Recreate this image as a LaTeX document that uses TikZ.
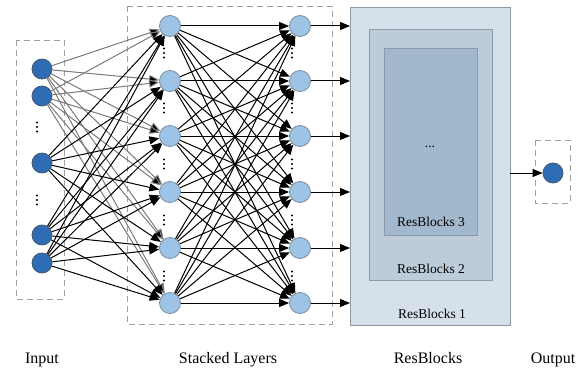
\documentclass[tikz,border=0pt]{standalone}
\usepackage{fontspec}
\setmainfont{Liberation Serif}
\usetikzlibrary{arrows.meta}
\definecolor{inblue}{HTML}{2E6DB5}
\definecolor{inedge}{HTML}{44576C}
\definecolor{hidblue}{HTML}{9DC3E6}
\definecolor{hidedge}{HTML}{7D8D9E}
\definecolor{boxgray}{HTML}{A0A0A0}
\definecolor{rbone}{HTML}{D6E0EA}
\definecolor{rbtwo}{HTML}{BDCCDA}
\definecolor{rbthree}{HTML}{A2B8CC}
\definecolor{rbedge}{HTML}{8D9AA6}
\definecolor{lightline}{HTML}{7A7A7A}
\tikzset{
  x=1pt, y=-1pt,
  innode/.style={circle, draw=inedge, fill=inblue, line width=0.8pt, minimum size=20pt, inner sep=0pt},
  hidnode/.style={circle, draw=hidedge, fill=hidblue, line width=0.8pt, minimum size=21pt, inner sep=0pt},
  groupbox/.style={draw=boxgray, line width=0.9pt, dash pattern=on 6pt off 4pt},
  conn/.style={line width=1pt, -{Triangle[length=10pt,width=8pt]}},
  graycon/.style={conn, draw=lightline, -{Triangle[length=10pt,width=8pt,fill=black]}},
  rbbox/.style={draw=rbedge, line width=0.8pt},
  caption/.style={font=\fontsize{16}{19}\selectfont, anchor=base},
  rblabel/.style={font=\fontsize{13.5}{16}\selectfont, anchor=base}
}
\newcommand{\dotcol}[2]{%
  \fill (#1,#2-4.5) circle (1.1pt);
  \fill (#1,#2) circle (1.1pt);
  \fill (#1,#2+4.5) circle (1.1pt);}
\begin{document}
\begin{tikzpicture}
\useasboundingbox (0,0) rectangle (587,369);

% group frames
\draw[groupbox] (16,40) rectangle (64,299);
\draw[groupbox] (127,6) rectangle (332,324);
\draw[groupbox] (535,140) rectangle (570,203);

% residual block stack
\draw[rbbox, fill=rbone] (350,7) rectangle (510,325);
\draw[rbbox, fill=rbtwo] (369,29) rectangle (492,280);
\draw[rbbox, fill=rbthree] (384,48) rectangle (477,235);
\node[rblabel] (rbdots) at (430,147) {...};
\node[rblabel] (rb3) at (431,226) {ResBlocks 3};
\node[rblabel] (rb2) at (431,273) {ResBlocks 2};
\node[rblabel] (rb1) at (432,318) {ResBlocks 1};
\coordinate (rbout) at (510,173);

% input layer
\foreach \i/\y in {1/69,2/96,3/163,4/235,5/263}
  \node[innode] (in\i) at (42,\y) {};
\dotcol{37}{127}
\dotcol{37}{200}

% hidden layers
\foreach \j/\y in {1/26,2/81,3/136,4/192,5/248,6/303} {
  \node[hidnode] (ha\j) at (170,\y) {};
  \node[hidnode] (hb\j) at (300,\y) {};
  \coordinate (rbin\j) at (350,\y);
}
\foreach \y in {53,108,164,220,276} {
  \dotcol{164}{\y}
  \dotcol{292}{\y}
}

% input -> first hidden layer
\foreach \i in {1,2}
  \foreach \j in {1,...,6}
    \draw[graycon] (in\i) -- (ha\j);
\foreach \i in {3,4,5}
  \foreach \j in {1,...,6}
    \draw[conn] (in\i) -- (ha\j);

% first -> second hidden layer
\foreach \i in {1,...,6}
  \foreach \j in {1,...,6}
    \draw[conn] (ha\i) -- (hb\j);

% second hidden layer -> residual blocks
\foreach \j in {1,...,6}
  \draw[conn] (hb\j) -- (rbin\j);

% output
\node[innode] (out) at (553,173) {};
\draw[conn] (rbout) -- (out);

% captions
\node[caption] (capin) at (42,363) {Input};
\node[caption] (capst) at (228,363) {Stacked Layers};
\node[caption] (caprb) at (428,363) {ResBlocks};
\node[caption] (capout) at (553,363) {Output};
\end{tikzpicture}
\end{document}
